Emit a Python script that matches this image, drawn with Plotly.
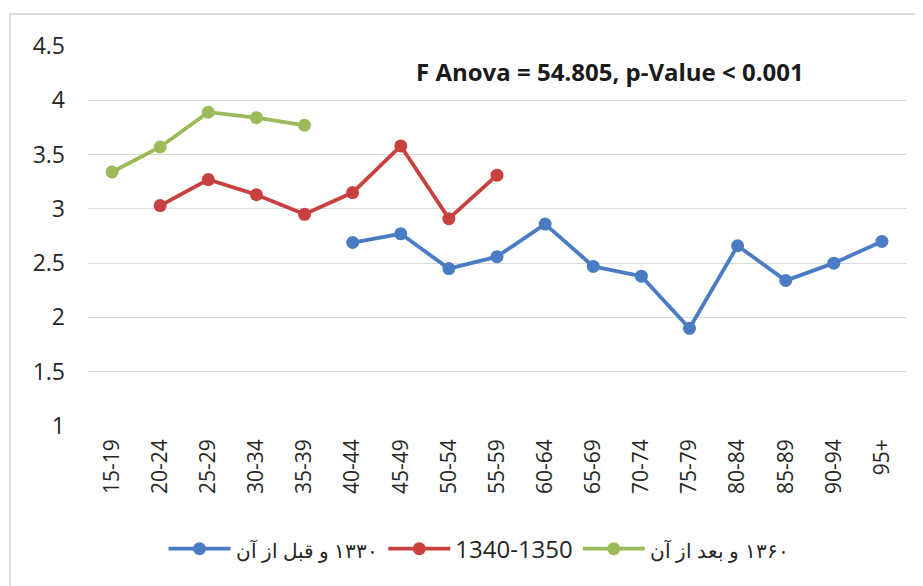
import plotly.graph_objects as go

age_groups = ["15-19", "20-24", "25-29", "30-34", "35-39", "40-44", "45-49", "50-54",
              "55-59", "60-64", "65-69", "70-74", "75-79", "80-84", "85-89", "90-94", "95+"]

cohort_1330 = [None, None, None, None, None, 2.69, 2.77, 2.45, 2.56, 2.86, 2.47, 2.38,
               1.90, 2.66, 2.34, 2.50, 2.70]
cohort_1340 = [None, 3.03, 3.27, 3.13, 2.95, 3.15, 3.58, 2.91, 3.31,
               None, None, None, None, None, None, None, None]
cohort_1360 = [3.34, 3.57, 3.89, 3.84, 3.77, None, None, None, None,
               None, None, None, None, None, None, None, None]

names = ["<span style='font-size:20px'>\u200f۱۳۳۰ و قبل از آن</span>",
         "1340-1350",
         "<span style='font-size:20px'>\u200f۱۳۶۰ و بعد از آن</span>"]
colors = ["#4a7cc4", "#c8413f", "#9bbb59"]
series = [cohort_1330, cohort_1340, cohort_1360]

fig = go.Figure()
for name, color, vals in zip(names, colors, series):
    fig.add_trace(go.Scatter(
        x=age_groups, y=vals, name=name, mode="lines+markers",
        line=dict(color=color, width=3.8),
        marker=dict(color=color, size=13),
        connectgaps=False,
    ))

font_family = "Open Sans, Liberation Sans, sans-serif"
# page body has an 8px margin, so the figure is offset by 8px on screen
fig.update_layout(
    width=923, height=586,
    margin=dict(l=80, r=25, t=38, b=168, autoexpand=False),
    paper_bgcolor="white", plot_bgcolor="white",
    font=dict(family=font_family, color="#262626", size=22),
    showlegend=True,
    legend=dict(orientation="h", x=0.478, xanchor="center", y=-0.324, yanchor="middle",
                font=dict(size=24, color="#262626"), itemwidth=62, traceorder="normal"),
    xaxis=dict(type="category", range=[-0.5, 16.5], tickangle=-90, showgrid=False,
               showline=False, zeroline=False, ticks="", tickfont=dict(size=21),
               automargin=False, ticklabelstandoff=8,
               categoryorder="array", categoryarray=age_groups),
    yaxis=dict(range=[1, 4.5], dtick=0.5, tick0=1, showgrid=True, gridcolor="#d9d9d9",
               gridwidth=1, showline=False, zeroline=False, ticks="",
               automargin=False, ticklabelstandoff=22,
               tickfont=dict(size=23)),
    annotations=[dict(text="<b>F Anova = 54.805, p-Value < 0.001</b>",
                      xref="paper", yref="paper", x=0.638, y=0.932,
                      xanchor="center", yanchor="middle", showarrow=False,
                      font=dict(size=24, color="#1a1a1a", family=font_family))],
    shapes=[dict(type="rect", xref="paper", yref="paper",
                 x0=(10 - 88) / 818, x1=(940 - 88) / 818,
                 y0=(426 - 600) / 380, y1=(426 - 14) / 380,
                 line=dict(color="#d0d0d0", width=1.5), layer="below")],
)

fig.write_html("out.html")
